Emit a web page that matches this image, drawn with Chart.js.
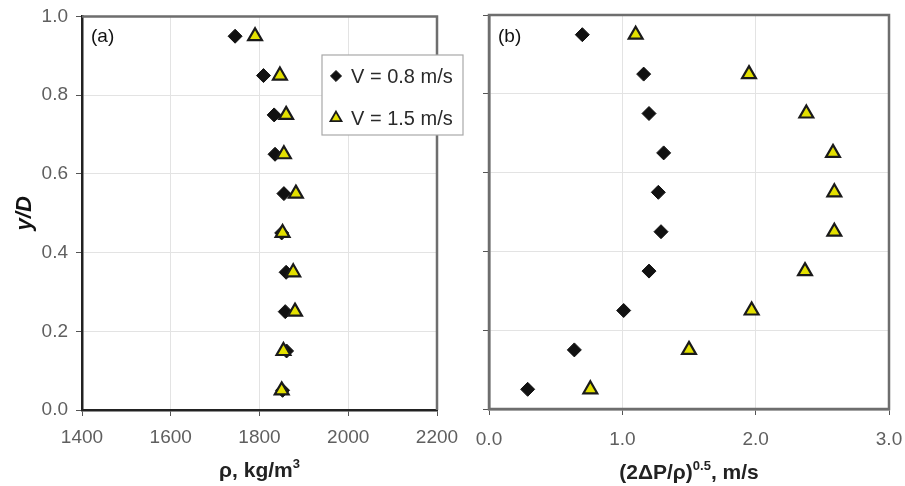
<!DOCTYPE html>
<html>
<head>
<meta charset="utf-8">
<script src="https://cdn.jsdelivr.net/npm/chart.js@4/dist/chart.umd.min.js"></script>
<style>
  html, body { margin: 0; padding: 0; background: #fff; }
  #wrap { position: relative; width: 905px; height: 486px; overflow: hidden; }
  #c1 { position: absolute; left: 0; top: 0; }
  #c2 { position: absolute; left: 450px; top: 0; }
</style>
</head>
<body>
<div id="wrap">
  <canvas id="c1" width="470" height="486"></canvas>
  <canvas id="c2" width="475" height="486"></canvas>
</div>
<script>
// ---- data ----
const yOverD = [0.95, 0.85, 0.75, 0.65, 0.55, 0.45, 0.35, 0.25, 0.15, 0.05];
const seriesLabels = ['V = 0.8 m/s', 'V = 1.5 m/s'];
const densityV08 = [1745, 1809, 1833, 1835, 1855, 1850, 1860, 1858, 1861, 1852];
const densityV15 = [1790, 1846, 1860, 1855, 1882, 1852, 1876, 1880, 1854, 1850];
const velocityV08 = [0.70, 1.16, 1.20, 1.31, 1.27, 1.29, 1.20, 1.01, 0.64, 0.29];
const velocityV15 = [1.10, 1.95, 2.38, 2.58, 2.59, 2.59, 2.37, 1.97, 1.50, 0.76];
const yTicks = [0.0, 0.2, 0.4, 0.6, 0.8, 1.0];
const densityTicks = [1400, 1600, 1800, 2000, 2200];
const velocityTicks = [0.0, 1.0, 2.0, 3.0];

Chart.defaults.font.family = '"Liberation Sans", Arial, sans-serif';
Chart.defaults.animation = false;

const FONT = '"Liberation Sans", Arial, sans-serif';
const GRID = '#e3e3e3';
const TICKCOL = '#555';
const LABELCOL = '#5f5f5f';

function pts(xs) { return xs.map((x, i) => ({ x: x, y: yOverD[i] })); }

function datasets(a, b) {
  return [
    { label: seriesLabels[0], data: pts(a), pointStyle: 'rectRot', pointRadius: 7, order: 2,
      backgroundColor: '#111', borderColor: '#111', borderWidth: 1, showLine: false },
    { label: seriesLabels[1], data: pts(b), pointStyle: 'triangle', pointRadius: 8, order: 1,
      backgroundColor: '#e3e000', borderColor: '#1a1a1a', borderWidth: 2.2, showLine: false }
  ];
}

const framePlugin = {
  id: 'frame',
  beforeDatasetsDraw(chart, args, opts) {
    const { ctx, chartArea: a } = chart;
    ctx.save();
    ctx.strokeStyle = '#6e6e6e';
    ctx.lineWidth = 2.5;
    ctx.beginPath();
    if (opts.full) {
      ctx.rect(a.left, a.top, a.right - a.left, a.bottom - a.top);
    } else {
      ctx.moveTo(a.left, a.top); ctx.lineTo(a.right, a.top); ctx.lineTo(a.right, a.bottom);
    }
    ctx.stroke();
    ctx.restore();
  },
  afterDatasetsDraw(chart, args, opts) {
    const { ctx, chartArea: a } = chart;
    ctx.save();
    ctx.fillStyle = '#111';
    ctx.font = '19px ' + FONT;
    ctx.textBaseline = 'middle';
    ctx.fillText(opts.tag, a.left + 9, 37);
    ctx.restore();
  }
};

// x-axis title with a real superscript
const xTitlePlugin = {
  id: 'xTitle',
  afterDraw(chart, args, opts) {
    const { ctx, chartArea: a } = chart;
    ctx.save();
    ctx.fillStyle = '#222';
    ctx.textBaseline = 'alphabetic';
    const big = 'bold 21px ' + FONT, small = 'bold 13px ' + FONT;
    let total = 0;
    opts.parts.forEach(p => { ctx.font = p.sup ? small : big; total += ctx.measureText(p.t).width; });
    let x = (a.left + a.right) / 2 - total / 2;
    const base = opts.y;
    opts.parts.forEach(p => {
      ctx.font = p.sup ? small : big;
      ctx.fillText(p.t, x, p.sup ? base - 9 : base);
      x += ctx.measureText(p.t).width;
    });
    ctx.restore();
  }
};

const legendPlugin = {
  id: 'boxLegend',
  afterDraw(chart, args, opts) {
    if (!opts.show) return;
    const { ctx } = chart;
    const x = opts.x, y = opts.y, w = opts.w, h = opts.h;
    ctx.save();
    ctx.fillStyle = '#fff';
    ctx.fillRect(x, y, w, h);
    ctx.strokeStyle = '#a8a8a8';
    ctx.lineWidth = 1.2;
    ctx.strokeRect(x, y, w, h);
    ctx.font = '20px ' + FONT;
    ctx.textBaseline = 'middle';
    chart.data.datasets.forEach((ds, i) => {
      const cy = y + 21 + i * 42;
      ctx.fillStyle = ds.backgroundColor;
      ctx.strokeStyle = ds.borderColor;
      ctx.lineWidth = ds.borderWidth * 0.8;
      Chart.helpers.drawPoint(ctx, { pointStyle: ds.pointStyle, radius: ds.pointRadius * 0.8, borderWidth: ds.borderWidth * 0.8, rotation: 0 }, x + 14, cy);
      ctx.fillStyle = '#2a2a2a';
      ctx.fillText(ds.label, x + 29, cy + 1);
    });
    ctx.restore();
  }
};

function makeChart(canvas, ds, xOpts, yOpts, pad, yWidth, xHeight, pluginOpts) {
  return new Chart(canvas, {
    type: 'scatter',
    data: { datasets: ds },
    plugins: [framePlugin, legendPlugin, xTitlePlugin],
    options: {
      responsive: false,
      layout: { padding: pad },
      plugins: {
        legend: { display: false },
        tooltip: { enabled: false },
        frame: pluginOpts.frame,
        boxLegend: pluginOpts.legend,
        xTitle: pluginOpts.xTitle
      },
      scales: {
        x: Object.assign({
          type: 'linear',
          afterFit(s) { s.height = xHeight; },
          grid: { color: GRID, lineWidth: 1, tickColor: TICKCOL, tickLength: 6, drawTicks: true },
          border: { display: true, color: pluginOpts.frame.full ? '#6e6e6e' : '#222', width: 2.5 }
        }, xOpts),
        y: Object.assign({
          type: 'linear', min: 0, max: 1,
          afterFit(s) { s.width = yWidth; },
          afterBuildTicks(s) { s.ticks = yTicks.map(v => ({ value: v })); },
          grid: { color: GRID, lineWidth: 1, tickColor: TICKCOL, tickLength: 6, drawTicks: true },
          border: { display: true, color: pluginOpts.frame.full ? '#6e6e6e' : '#222', width: 2.5 }
        }, yOpts)
      }
    }
  });
}

// (a) density panel
makeChart(document.getElementById('c1'), datasets(densityV08, densityV15),
  {
    min: 1400, max: 2200,
    afterBuildTicks(s) { s.ticks = densityTicks.map(v => ({ value: v })); },
    ticks: { color: LABELCOL, font: { size: 19 }, padding: 10, maxRotation: 0, callback: v => String(v) },
    title: { display: false }
  },
  {
    ticks: { color: LABELCOL, font: { size: 19, lineHeight: 0.9 }, padding: 8, callback: v => Number(v).toFixed(1) },
    title: { display: true, text: 'y/D', color: '#111', font: { size: 22, weight: 'bold', style: 'italic' }, padding: { top: 12, bottom: 0 } }
  },
  { top: 16, right: 33, left: 0, bottom: 0 }, 82, 76,
  { frame: { full: false, tag: '(a)' }, legend: { show: true, x: 322, y: 55, w: 141, h: 80 },
    xTitle: { y: 477, parts: [{ t: 'ρ, kg/m' }, { t: '3', sup: true }] } }
);

// (b) velocity panel
makeChart(document.getElementById('c2'), datasets(velocityV08, velocityV15),
  {
    min: 0, max: 3,
    afterBuildTicks(s) { s.ticks = velocityTicks.map(v => ({ value: v })); },
    ticks: { color: LABELCOL, font: { size: 19 }, padding: 13, maxRotation: 0, callback: v => Number(v).toFixed(1) },
    title: { display: false }
  },
  {
    ticks: { display: false },
    title: { display: false }
  },
  { top: 15, right: 36, left: 0, bottom: 0 }, 39, 77,
  { frame: { full: true, tag: '(b)' }, legend: { show: false },
    xTitle: { y: 479, parts: [{ t: '(2ΔP/ρ)' }, { t: '0.5', sup: true }, { t: ', m/s' }] } }
);
</script>
</body>
</html>
